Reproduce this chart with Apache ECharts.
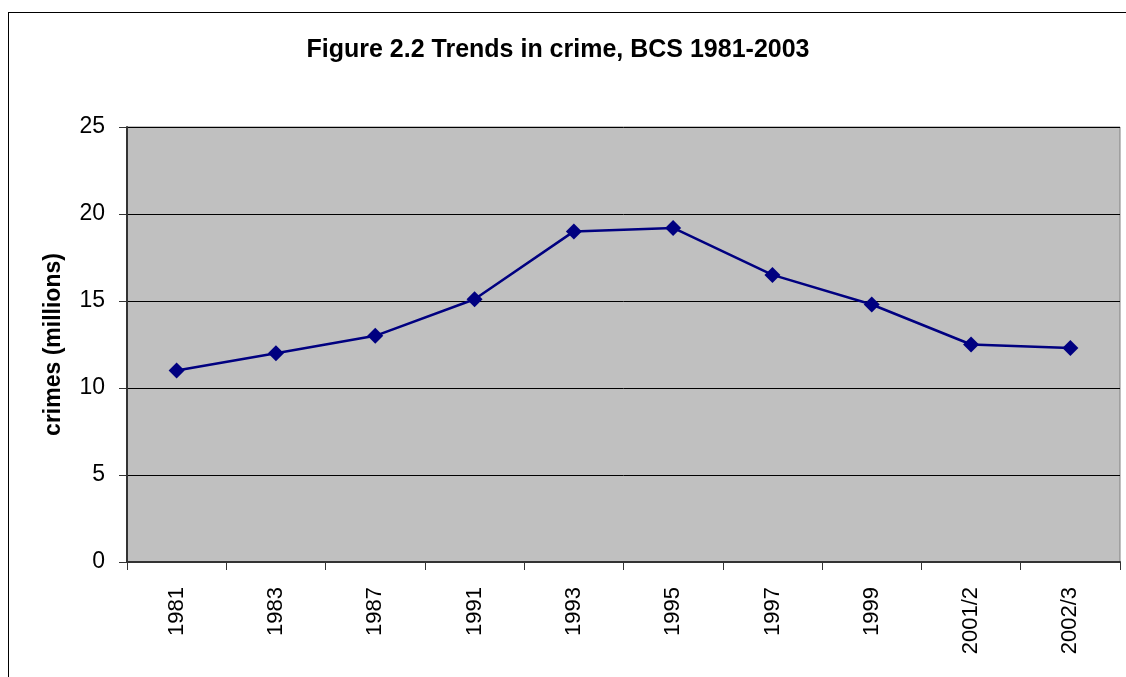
<!DOCTYPE html>
<html>
<head>
<meta charset="utf-8">
<script src="https://cdn.jsdelivr.net/npm/echarts@6/dist/echarts.min.js"></script>
<style>
  html, body { margin: 0; padding: 0; background: #fff; }
  #frame { position: absolute; left: 8px; top: 12px; width: 1130px; height: 680px; border-left: 1px solid #000; border-top: 1px solid #000; }
  #chart { position: absolute; left: 0; top: 0; width: 1126px; height: 677px; }
</style>
</head>
<body>
<div id="frame"></div>
<div id="chart"></div>
<script>
  var years = ['1981', '1983', '1987', '1991', '1993', '1995', '1997', '1999', '2001/2', '2002/3'];
  var crimes = [11.0, 12.0, 13.0, 15.1, 19.0, 19.2, 16.5, 14.8, 12.5, 12.3];
  var yTicks = [0, 5, 10, 15, 20, 25];

  var chart = echarts.init(document.getElementById('chart'));
  var font = 'Liberation Sans, Arial, sans-serif';

  var option = {
    backgroundColor: 'transparent',
    animation: false,
    title: {
      text: 'Figure 2.2 Trends in crime, BCS 1981-2003',
      left: 553,
      textAlign: 'center',
      top: 33,
      textStyle: { fontFamily: font, fontSize: 25, fontWeight: 'bold', color: '#000' }
    },
    grid: {
      left: 127, right: 6, top: 127, bottom: 115,
      show: true,
      backgroundColor: '#c0c0c0',
      borderColor: '#808080',
      borderWidth: 1
    },
    xAxis: {
      type: 'category',
      data: years,
      boundaryGap: true,
      axisLine: { lineStyle: { color: '#333', width: 2 } },
      axisTick: { show: true, alignWithLabel: false, length: 8, lineStyle: { color: '#333', width: 1 } },
      axisLabel: { rotate: 90, margin: 25, fontFamily: font, fontSize: 22, color: '#000' }
    },
    yAxis: {
      type: 'value',
      min: yTicks[0],
      max: yTicks[yTicks.length - 1],
      interval: 5,
      name: 'crimes (millions)',
      nameLocation: 'middle',
      nameGap: 62,
      nameTextStyle: { fontFamily: font, fontSize: 23, fontWeight: 'bold', color: '#000' },
      axisLine: { show: true, lineStyle: { color: '#333', width: 2 } },
      axisTick: { show: true, length: 8, lineStyle: { color: '#333' } },
      axisLabel: { margin: 22, fontFamily: font, fontSize: 23, color: '#000' },
      splitLine: { show: true, lineStyle: { color: '#000', width: 1 } }
    },
    series: [{
      type: 'line',
      data: crimes,
      symbol: 'diamond',
      symbolSize: 16,
      itemStyle: { color: '#000080' },
      lineStyle: { color: '#000080', width: 2.5 }
    }]
  };

  chart.setOption(option);
</script>
</body>
</html>
